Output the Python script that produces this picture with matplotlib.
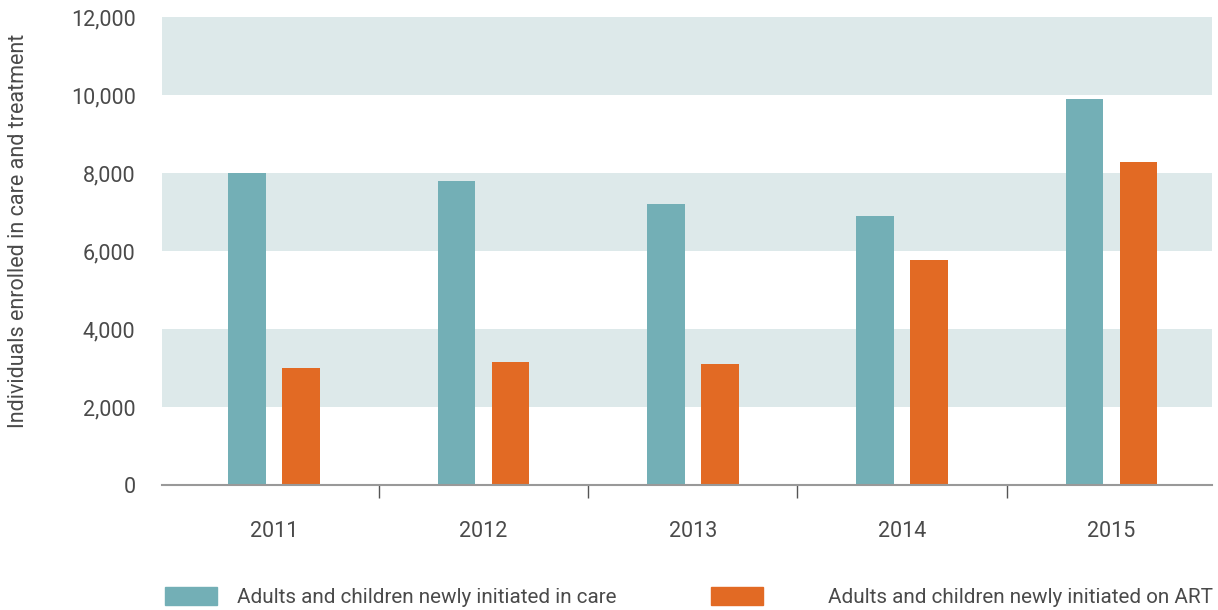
import numpy as np
import matplotlib
matplotlib.use("Agg")
import matplotlib.pyplot as plt
from matplotlib.patches import Patch

years = ["2011", "2012", "2013", "2014", "2015"]
in_care = [8000, 7800, 7200, 6900, 9900]
on_art = [3000, 3150, 3100, 5770, 8280]
label_care = "Adults and children newly initiated in care"
label_art = "Adults and children newly initiated on ART"

plt.rcParams["font.family"] = ["Roboto", "DejaVu Sans"]

teal = "#73afb6"
orange = "#e26a24"
band = "#dde9ea"
txt = "#4a4a4a"

fig = plt.figure(figsize=(12.18, 6.10), dpi=100)
ax = fig.add_axes([162/1218, 125/610, 1050/1218, 468/610])

x = np.arange(len(years))
w = 0.18
off = 0.129
ax.bar(x - off, in_care, w, color=teal, zorder=3)
ax.bar(x + off, on_art, w, color=orange, zorder=3)

for lo in (2000, 6000, 10000):
    ax.axhspan(lo, lo + 2000, color=band, lw=0, zorder=0)

ax.set_xlim(-0.535, 4.48)
ax.set_ylim(0, 12000)
ax.set_yticks(np.arange(0, 12001, 2000))
ax.set_yticklabels([f"{v:,}" for v in range(0, 12001, 2000)])
ax.set_xticks(x)
ax.set_xticklabels(years)
ax.set_xticks(x[:-1] + 0.5, minor=True)
ax.tick_params(axis="x", which="major", length=0, pad=26, labelsize=15.5, labelcolor=txt)
ax.tick_params(axis="x", which="minor", length=9, width=1, color="#555555", direction="out")
ax.tick_params(axis="y", length=0, pad=19, labelsize=15.5, labelcolor=txt)

for s in ("left", "right", "top"):
    ax.spines[s].set_visible(False)
ax.spines["bottom"].set_color("#999999")
ax.spines["bottom"].set_linewidth(1.5)
ax.spines["bottom"].set_zorder(4)

ax.set_ylabel("Individuals enrolled in care and treatment", fontsize=15.5, color=txt)
ax.yaxis.set_label_coords(-0.127, 0.543)

fs = 14.9
leg1 = fig.legend(handles=[Patch(color=teal)], labels=[label_care], loc="center left",
                  bbox_to_anchor=(165/1218, 13/610), frameon=False, fontsize=fs,
                  borderpad=0, borderaxespad=0, handlelength=2.51, handleheight=0.92,
                  handletextpad=0.97, labelcolor=txt)
fig.legend(handles=[Patch(color=orange)], labels=[label_art], loc="center left",
           bbox_to_anchor=(711/1218, 13/610), frameon=False, fontsize=fs,
           borderpad=0, borderaxespad=0, handlelength=2.51, handleheight=0.92,
           handletextpad=3.14, labelcolor=txt)

fig.savefig("out.png", dpi=100)
